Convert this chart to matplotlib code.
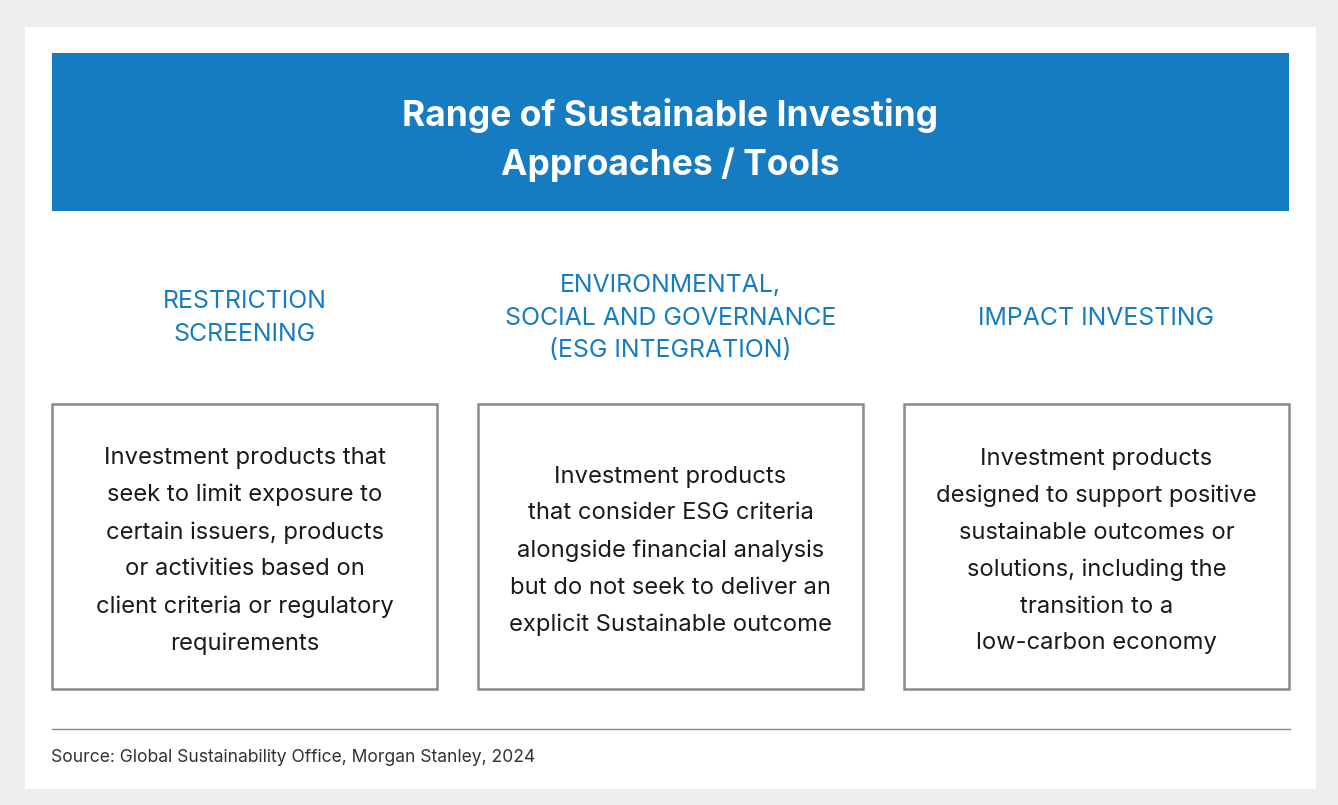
import matplotlib
matplotlib.use("Agg")
import matplotlib.pyplot as plt
from matplotlib.patches import Rectangle

title = "Range of Sustainable Investing\nApproaches / Tools"
categories = [
    "RESTRICTION\nSCREENING",
    "ENVIRONMENTAL,\nSOCIAL AND GOVERNANCE\n(ESG INTEGRATION)",
    "IMPACT INVESTING",
]
descriptions = [
    "Investment products that\nseek to limit exposure to\ncertain issuers, products\nor activities based on\nclient criteria or regulatory\nrequirements",
    "Investment products\nthat consider ESG criteria\nalongside financial analysis\nbut do not seek to deliver an\nexplicit Sustainable outcome",
    "Investment products\ndesigned to support positive\nsustainable outcomes or\nsolutions, including the\ntransition to a\nlow-carbon economy",
]
source = "Source: Global Sustainability Office, Morgan Stanley, 2024"

W, H = 1338, 805
fig = plt.figure(figsize=(W / 100, H / 100), dpi=100)
fig.patch.set_facecolor("#eeeeee")
ax = fig.add_axes([0, 0, 1, 1])
ax.set_xlim(0, W)
ax.set_ylim(H, 0)
ax.axis("off")

FONT = "Inter"
BLUE = "#167cc1"

# white panel
ax.add_patch(Rectangle((25, 27), 1291, 762, facecolor="white", edgecolor="none"))
# header
ax.add_patch(Rectangle((52, 53), 1237, 158, facecolor=BLUE, edgecolor="none"))
ax.text(670, 140, title, ha="center", va="center", color="white", fontsize=25.5,
        fontweight="bold", family=FONT, linespacing=1.5)

box_x = [52, 478, 904]
box_w = 385
for i, (cat, desc) in enumerate(zip(categories, descriptions)):
    cx = box_x[i] + box_w / 2
    ax.text(cx, 318, cat, ha="center", va="center", color=BLUE, fontsize=17.9,
            family=FONT, linespacing=1.55)
    ax.add_patch(Rectangle((box_x[i], 404), box_w, 285, facecolor="white",
                           edgecolor="#8a8a8a", linewidth=1.8))
    ax.text(cx, 551, desc, ha="center", va="center", color="#1a1a1a",
            fontsize=17.1, family=FONT, linespacing=1.86)

ax.plot([52, 1290], [729, 729], color="#888888", linewidth=1)
ax.text(51, 757, source, ha="left", va="center", color="#333333",
        fontsize=12.6, family=FONT)

fig.savefig("out.png", dpi=100, facecolor=fig.get_facecolor())
